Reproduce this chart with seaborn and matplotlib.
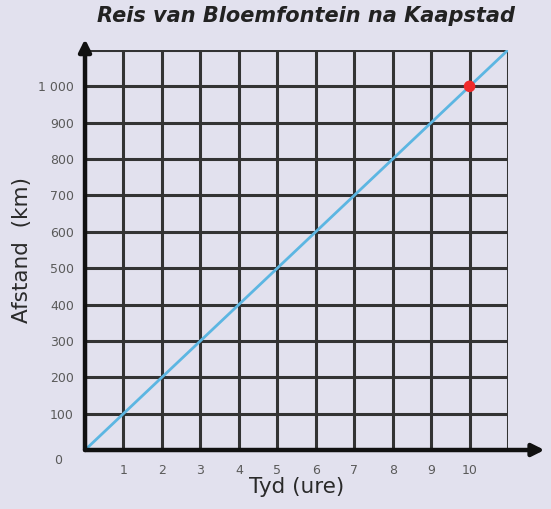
import matplotlib
matplotlib.use("Agg")
import matplotlib.pyplot as plt
import seaborn as sns
import pandas as pd

# Journey data
hours = [0, 11]
distance_km = [0, 1100]
marker_hours = [10]
marker_km = [1000]
x_ticks = [1, 2, 3, 4, 5, 6, 7, 8, 9, 10]
y_ticks = [100, 200, 300, 400, 500, 600, 700, 800, 900, 1000]
y_tick_labels = ["100", "200", "300", "400", "500", "600", "700", "800", "900", "1 000"]

bg = "#e2e1ee"
sns.set_theme(style="white", rc={"axes.facecolor": bg, "figure.facecolor": bg})
plt.rcParams["font.family"] = ["DejaVu Sans"]

fig = plt.figure(figsize=(5.51, 5.09), dpi=100)
ax = fig.add_axes([0.1543, 0.1159, 0.7677, 0.7859])

line_df = pd.DataFrame({"Tyd": hours, "Afstand": distance_km})
pt_df = pd.DataFrame({"Tyd": marker_hours, "Afstand": marker_km})

ax.set_xlim(0, 11)
ax.set_ylim(0, 1100)

# grid
for xv in range(1, 12):
    ax.axvline(xv, color="#333333", lw=2.2, zorder=1)
for yv in range(100, 1200, 100):
    ax.axhline(yv, color="#333333", lw=2.2, zorder=1)

sns.lineplot(data=line_df, x="Tyd", y="Afstand", ax=ax, color="#5cb6e2",
             lw=2.0, zorder=3)
sns.scatterplot(data=pt_df, x="Tyd", y="Afstand", ax=ax, color="#f02a2a",
                s=70, edgecolor="none", zorder=4)

for s in ax.spines.values():
    s.set_visible(False)

# axes with arrowheads
ax.annotate("", xy=(11.95, 0), xytext=(0, 0), annotation_clip=False,
            arrowprops=dict(arrowstyle="-|>,head_length=0.6,head_width=0.3",
                            color="#111111", lw=3.2, shrinkA=0, shrinkB=0),
            zorder=5)
ax.annotate("", xy=(0, 1130), xytext=(0, 0), annotation_clip=False,
            arrowprops=dict(arrowstyle="-|>,head_length=0.6,head_width=0.3",
                            color="#111111", lw=3.2, shrinkA=0, shrinkB=0),
            zorder=5)

ax.set_xticks(x_ticks)
ax.set_xticklabels([str(v) for v in x_ticks])
ax.set_yticks(y_ticks)
ax.set_yticklabels(y_tick_labels)
ax.tick_params(axis="both", length=0, labelsize=9, labelcolor="#5a5a5a")
ax.tick_params(axis="x", pad=10)
ax.tick_params(axis="y", pad=8)
ax.text(-0.7, -30, "0", ha="center", va="center", fontsize=9,
        color="#5a5a5a")

ax.set_xlabel("Tyd (ure)", fontsize=15.5, color="#2a2a2a", labelpad=0)
ax.set_ylabel("Afstand  (km)", fontsize=15.5, color="#2a2a2a", labelpad=4)
fig.text(0.556, 0.968, "Reis van Bloemfontein na Kaapstad", ha="center",
         va="center", fontsize=15, fontweight="bold", fontstyle="italic",
         color="#222222")

fig.savefig("out.png", dpi=100)
